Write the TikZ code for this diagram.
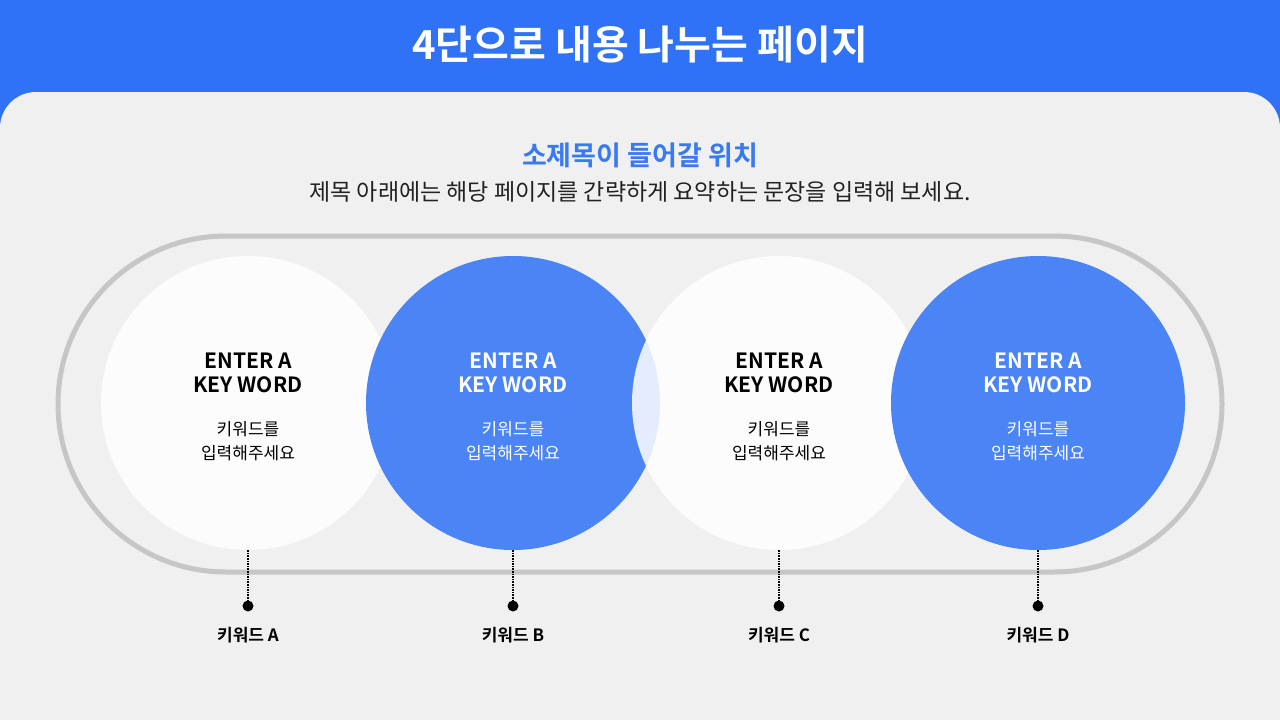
\documentclass[tikz,border=0pt]{standalone}
\usepackage{fontspec}
\setmainfont{Noto Sans CJK KR}
\newfontfamily\krb{Noto Sans CJK KR Bold}
\definecolor{topblue}{HTML}{2F72F5}
\definecolor{panel}{HTML}{F0F0F0}
\definecolor{cblue}{HTML}{4A84F5}
\definecolor{subblue}{HTML}{3A7AF0}
\definecolor{ring}{HTML}{C6C6C6}
\definecolor{txt}{HTML}{222222}
\tikzset{
  wc/.style={circle,fill=white,fill opacity=0.85,minimum size=294pt,inner sep=0pt},
  bc/.style={circle,fill=cblue,minimum size=294pt,inner sep=0pt},
  head/.style={font=\krb\fontsize{21}{24}\selectfont,align=center},
  sub/.style={font=\fontsize{17}{24}\selectfont,align=center},
  kw/.style={font=\krb\fontsize{17}{20}\selectfont,text=black},
  dot/.style={circle,fill=black,minimum size=11pt,inner sep=0pt},
  dotline/.style={densely dotted,line width=1.6pt,black}
}
\begin{document}
\begin{tikzpicture}[x=1pt,y=-1pt]
\useasboundingbox (0,0) rectangle (1280,720);
\fill[topblue] (0,0) rectangle (1280,130);
\fill[panel,rounded corners=36pt] (0,92) rectangle (1280,760);
\fill[panel] (0,700) rectangle (1280,720);
\node[text=white,font=\krb\fontsize{40}{44}\selectfont] (title) at (640,45) {4단으로 내용 나누는 페이지};
\node[text=subblue,font=\krb\fontsize{27}{30}\selectfont] (st) at (640,155) {소제목이 들어갈 위치};
\node[text=txt,font=\fontsize{23}{26}\selectfont] (desc) at (640,192) {제목 아래에는 해당 페이지를 간략하게 요약하는 문장을 입력해 보세요.};
\draw[ring,line width=5pt,rounded corners=168pt] (58,236) rectangle (1222,572);
\node[wc] (c1) at (248,403) {};
\node[bc] (c2) at (513,403) {};
\node[wc] (c3) at (779,403) {};
\node[bc] (c4) at (1038,403) {};
\foreach \x/\c/\n/\l in {248/black/1/A,513/white/2/B,779/black/3/C,1038/white/4/D}{
  \node[head,text=\c] at (\x,373) {ENTER A\\KEY WORD};
  \node[sub,text=\c] at (\x,441) {키워드를\\입력해주세요};
  \node[dot] (d\n) at (\x,606) {};
  \node[kw] (k\n) at (\x,635) {키워드 \l};
  \draw[dotline] (c\n.south) -- (d\n);
}
\end{tikzpicture}
\end{document}
